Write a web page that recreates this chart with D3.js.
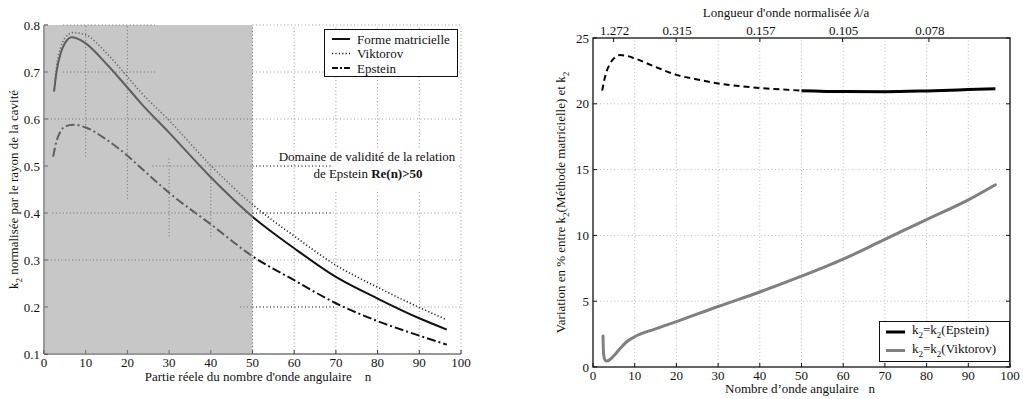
<!DOCTYPE html>
<html><head><meta charset="utf-8">
<script src="https://cdn.jsdelivr.net/npm/d3@7"></script>
<style>
html,body{margin:0;padding:0;background:#fff;}
svg{display:block;font-family:"Liberation Serif","Times New Roman",serif;}
text{fill:#111;}
</style></head>
<body>
<svg id="chart" width="1023" height="399"></svg>
<script>
// ---------- DATA ----------
// Left chart: k2 normalised by cavity radius vs Re(n)
const formeMatricielle = [[2.4,0.658],[3,0.70],[4,0.74],[5,0.761],[6.6,0.774],[8,0.771],[10,0.761],[15,0.717],[20,0.667],[23,0.636],[30,0.571],[40,0.476],[50,0.392],[60,0.325],[70,0.264],[80,0.218],[90,0.176],[96.6,0.152]];
const viktorov = [[2.5,0.664],[3,0.71],[4,0.752],[5,0.772],[7,0.784],[10,0.779],[15,0.74],[20,0.69],[23,0.659],[30,0.597],[40,0.501],[50,0.418],[60,0.351],[70,0.289],[80,0.242],[90,0.199],[96.3,0.174]];
const epstein = [[2.2,0.52],[3,0.553],[4,0.574],[5,0.584],[7,0.588],[10,0.582],[15,0.556],[20,0.522],[23,0.498],[30,0.443],[40,0.376],[50,0.308],[60,0.257],[70,0.208],[80,0.17],[90,0.139],[96.6,0.12]];
// Right chart: variation in % between k2 (matrix method) and k2
const varEpsteinDashed = [[2.2,21.0],[3,22.2],[4,23.0],[5,23.45],[6.5,23.7],[8,23.65],[10,23.45],[15,22.8],[20,22.2],[25,21.85],[30,21.55],[35,21.35],[40,21.2],[45,21.1],[50,21.0]];
const varEpsteinSolid = [[50,21.0],[60,20.93],[70,20.92],[80,20.98],[90,21.08],[96.5,21.15]];
const varViktorov = [[2.4,2.35],[2.45,1.6],[2.6,0.85],[2.9,0.52],[3.3,0.45],[4,0.55],[5,0.85],[6.5,1.4],[8,1.9],[10,2.3],[15,2.9],[20,3.45],[30,4.6],[40,5.7],[50,6.9],[60,8.2],[70,9.7],[80,11.2],[90,12.7],[96.5,13.85]];
// ticks
const nTicks = [0,10,20,30,40,50,60,70,80,90,100];
const leftYTicks = [0.1,0.2,0.3,0.4,0.5,0.6,0.7,0.8];
const rightYTicks = [0,5,10,15,20,25];
const lambdaLabels = ["1.272","0.315","0.157","0.105","0.078"];
const validityLimit = 50;

// ---------- SETUP ----------
const svg = d3.select("#chart");
const xL = d3.scaleLinear([0,100],[44,461]);
const yL = d3.scaleLinear([0.1,0.8],[354,25]);
const xR = d3.scaleLinear([0,100],[593,1010]);
const yR = d3.scaleLinear([0,25],[367,38]);
const FS = 13;

// ===== LEFT CHART =====
const gL = svg.append("g");
// light grid outside grey zone
const lightGrid = gL.append("g").attr("stroke","#9a9a9a").attr("stroke-width",1).attr("stroke-dasharray","1,2.5");
leftYTicks.filter(v=>v>0.1).forEach(v=>{
  lightGrid.append("line").attr("x1",xL(validityLimit)).attr("x2",xL(100)).attr("y1",yL(v)).attr("y2",yL(v));
});
nTicks.filter(n=>n>validityLimit).forEach(n=>{
  lightGrid.append("line").attr("x1",xL(n)).attr("x2",xL(n)).attr("y1",yL(0.1)).attr("y2",yL(0.8));
});
// darker fragments
const darkGrid = gL.append("g").attr("stroke","#333").attr("stroke-width",1).attr("stroke-dasharray","1,2.5");
[[0.5,50,70],[0.4,50,69],[0.2,50,70]].forEach(d=>{
  darkGrid.append("line").attr("x1",xL(d[1])).attr("x2",xL(d[2])).attr("y1",yL(d[0])).attr("y2",yL(d[0]));
});

// axes (left & bottom), ticks inward
const axG = gL.append("g").attr("stroke","#333").attr("stroke-width",1).attr("fill","none");
axG.append("line").attr("x1",xL(0)).attr("x2",xL(0)).attr("y1",yL(0.1)).attr("y2",yL(0.8));
axG.append("line").attr("x1",xL(0)).attr("x2",xL(100)).attr("y1",yL(0.1)).attr("y2",yL(0.1));
nTicks.forEach(n=>axG.append("line").attr("x1",xL(n)).attr("x2",xL(n)).attr("y1",yL(0.1)).attr("y2",yL(0.1)-4));
leftYTicks.forEach(v=>axG.append("line").attr("x1",xL(0)).attr("x2",xL(0)+4).attr("y1",yL(v)).attr("y2",yL(v)));

// curves
const lineL = d3.line().x(d=>xL(d[0])).y(d=>yL(d[1])).curve(d3.curveMonotoneX);
gL.append("path").attr("d",lineL(viktorov)).attr("fill","none").attr("stroke","#222").attr("stroke-width",1.6).attr("stroke-dasharray","1.2,2.2");
gL.append("path").attr("d",lineL(epstein)).attr("fill","none").attr("stroke","#111").attr("stroke-width",2).attr("stroke-dasharray","9,3,2,3");
gL.append("path").attr("d",lineL(formeMatricielle)).attr("fill","none").attr("stroke","#111").attr("stroke-width",2);

// grey validity zone (semi-transparent over curves)
gL.append("rect").attr("x",xL(0)).attr("y",yL(0.8)).attr("width",xL(validityLimit)-xL(0)).attr("height",yL(0.1)-yL(0.8))
  .attr("fill","#9c9c9c").attr("fill-opacity",0.56);
// grid fragments inside grey zone
const inGrid = gL.append("g").attr("stroke","#6e6e6e").attr("stroke-width",1).attr("stroke-dasharray","1,2.5");
[[0.8,4.6,26.6],[0.7,4.6,26.6],[0.6,0,50],[0.5,26,50],[0.4,2,50],[0.3,0,50],[0.2,47,50]].forEach(d=>{
  inGrid.append("line").attr("x1",xL(d[1])).attr("x2",xL(d[2])).attr("y1",yL(d[0])).attr("y2",yL(d[0]));
});
[[10,0.52,0.8],[20,0.43,0.8],[30,0.35,0.52],[40,0.35,0.5],[50,0.1,0.8]].forEach(d=>{
  inGrid.append("line").attr("x1",xL(d[0])).attr("x2",xL(d[0])).attr("y1",yL(d[1])).attr("y2",yL(d[2]));
});

// tick labels
nTicks.forEach(n=>gL.append("text").attr("x",xL(n)).attr("y",367).attr("text-anchor","middle").attr("font-size",FS).text(n));
leftYTicks.forEach(v=>gL.append("text").attr("x",xL(0)-4).attr("y",yL(v)+4.5).attr("text-anchor","end").attr("font-size",FS).text(v.toFixed(1)));

// axis labels
gL.append("text").attr("x",258).attr("y",381).attr("text-anchor","middle").attr("font-size",FS)
  .style("white-space","pre").text("Partie réele du nombre d'onde angulaire    n");
const ylab = gL.append("text").attr("transform",`translate(18,${(yL(0.1)+yL(0.8))/2}) rotate(-90)`).attr("text-anchor","middle").attr("font-size",FS);
ylab.append("tspan").text("k");
ylab.append("tspan").attr("dy",4).attr("font-size",9).text("2");
ylab.append("tspan").attr("dy",-4).text(" normalisée par le rayon de la cavité");

// annotation with white background
gL.append("rect").attr("x",xL(69)).attr("y",yL(0.535)).attr("width",xL(99.5)-xL(69)).attr("height",yL(0.45)-yL(0.535)).attr("fill","#fff");
gL.append("text").attr("x",367).attr("y",161).attr("text-anchor","middle").attr("font-size",FS).text("Domaine de validité de la relation");
const ann2 = gL.append("text").attr("x",368).attr("y",178).attr("text-anchor","middle").attr("font-size",FS);
ann2.append("tspan").text("de Epstein ");
ann2.append("tspan").attr("font-weight","bold").text("Re(n)>50");

// legend left
const legL = gL.append("g");
legL.append("rect").attr("x",324.5).attr("y",29.5).attr("width",133).attr("height",47).attr("fill","#fff").attr("stroke","#111").attr("stroke-width",1);
const legItems = [
  {name:"Forme matricielle", dash:null, w:2},
  {name:"Viktorov", dash:"1.2,2.2", w:1.4},
  {name:"Epstein", dash:"6,2,2,2", w:2}
];
legItems.forEach((it,i)=>{
  const y = 39 + i*14.5;
  const l = legL.append("line").attr("x1",332).attr("x2",350).attr("y1",y).attr("y2",y).attr("stroke","#111").attr("stroke-width",it.w);
  if(it.dash) l.attr("stroke-dasharray",it.dash);
  legL.append("text").attr("x",357).attr("y",y+4.5).attr("font-size",FS).text(it.name);
});

// ===== RIGHT CHART =====
const gR = svg.append("g");
const gridR = gR.append("g").attr("stroke","#bdbdbd").attr("stroke-width",1).attr("stroke-dasharray","1,2.5");
nTicks.filter(n=>n>0&&n<100).forEach(n=>gridR.append("line").attr("x1",xR(n)).attr("x2",xR(n)).attr("y1",yR(0)).attr("y2",yR(25)));
rightYTicks.filter(v=>v>0&&v<25).forEach(v=>gridR.append("line").attr("x1",xR(0)).attr("x2",xR(100)).attr("y1",yR(v)).attr("y2",yR(v)));

const lineR = d3.line().x(d=>xR(d[0])).y(d=>yR(d[1])).curve(d3.curveMonotoneX);
gR.append("path").attr("d",lineR(varViktorov)).attr("fill","none").attr("stroke","#808080").attr("stroke-width",3).attr("stroke-linecap","round").attr("stroke-linejoin","round");
gR.append("path").attr("d",lineR(varEpsteinDashed)).attr("fill","none").attr("stroke","#000").attr("stroke-width",2).attr("stroke-dasharray","6,4");
gR.append("path").attr("d",lineR(varEpsteinSolid)).attr("fill","none").attr("stroke","#000").attr("stroke-width",3);

// box
gR.append("rect").attr("x",xR(0)).attr("y",yR(25)).attr("width",xR(100)-xR(0)).attr("height",yR(0)-yR(25)).attr("fill","none").attr("stroke","#111").attr("stroke-width",1.3);
const tkR = gR.append("g").attr("stroke","#111").attr("stroke-width",1);
nTicks.forEach(n=>tkR.append("line").attr("x1",xR(n)).attr("x2",xR(n)).attr("y1",yR(0)).attr("y2",yR(0)-4));
rightYTicks.forEach(v=>{
  tkR.append("line").attr("x1",xR(0)).attr("x2",xR(0)+4).attr("y1",yR(v)).attr("y2",yR(v));
  tkR.append("line").attr("x1",xR(100)).attr("x2",xR(100)-4).attr("y1",yR(v)).attr("y2",yR(v));
});
// top axis: normalised wavelength lambda/a = 2*pi/n
lambdaLabels.forEach(s=>{
  const n = 2*Math.PI/parseFloat(s);
  tkR.append("line").attr("x1",xR(n)).attr("x2",xR(n)).attr("y1",yR(25)).attr("y2",yR(25)+4);
  gR.append("text").attr("x",xR(n)+1).attr("y",35).attr("text-anchor","middle").attr("font-size",FS).text(s);
});
const topT = gR.append("text").attr("x",786).attr("y",17).attr("text-anchor","middle").attr("font-size",FS);
topT.append("tspan").text("Longueur d'onde normalisée ");
topT.append("tspan").attr("font-style","italic").text("λ");
topT.append("tspan").text("/a");

nTicks.forEach(n=>gR.append("text").attr("x",xR(n)).attr("y",380).attr("text-anchor","middle").attr("font-size",FS).text(n));
rightYTicks.forEach(v=>gR.append("text").attr("x",xR(0)-4).attr("y",yR(v)+4.5).attr("text-anchor","end").attr("font-size",FS).text(v));

gR.append("text").attr("x",800).attr("y",393).attr("text-anchor","middle").attr("font-size",FS)
  .style("white-space","pre").text("Nombre d’onde angulaire   n");
const ylabR = gR.append("text").attr("transform",`translate(565,${(yR(0)+yR(25))/2}) rotate(-90)`).attr("text-anchor","middle").attr("font-size",FS);
ylabR.append("tspan").text("Variation en % entre k");
ylabR.append("tspan").attr("dy",4).attr("font-size",9).text("2");
ylabR.append("tspan").attr("dy",-4).text("(Méthode matricielle) et k");
ylabR.append("tspan").attr("dy",4).attr("font-size",9).text("2");

// legend right
const legR = gR.append("g");
legR.append("rect").attr("x",879.5).attr("y",321.5).attr("width",130).attr("height",40).attr("fill","#fff").attr("stroke","#111").attr("stroke-width",1);
[{name:"Epstein",c:"#000"},{name:"Viktorov",c:"#808080"}].forEach((it,i)=>{
  const y = 332 + i*18.5;
  legR.append("line").attr("x1",886).attr("x2",905).attr("y1",y).attr("y2",y).attr("stroke",it.c).attr("stroke-width",3);
  const t = legR.append("text").attr("x",912).attr("y",y+2).attr("font-size",FS);
  t.append("tspan").text("k");
  t.append("tspan").attr("dy",4).attr("font-size",9).text("2");
  t.append("tspan").attr("dy",-4).text("=k");
  t.append("tspan").attr("dy",4).attr("font-size",9).text("2");
  t.append("tspan").attr("dy",-4).text("("+it.name+")");
});
</script>
</body></html>
